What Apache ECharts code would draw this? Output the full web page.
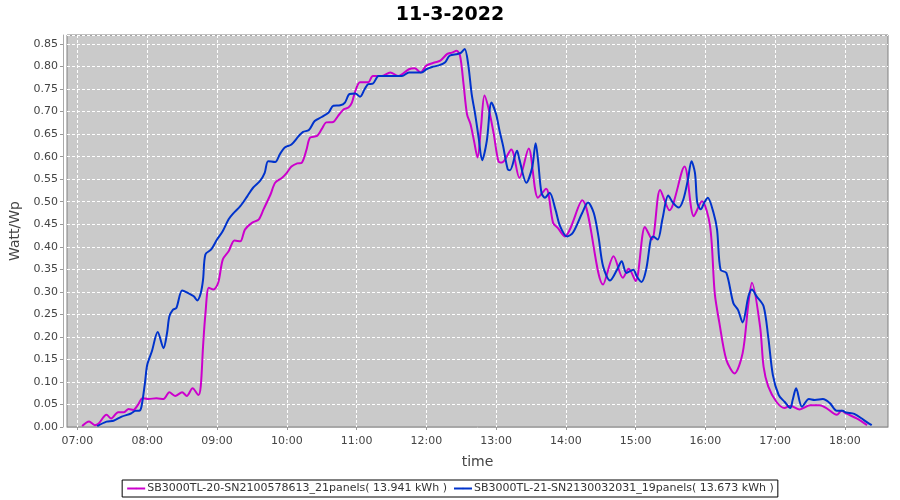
<!DOCTYPE html>
<html>
<head>
<meta charset="utf-8">
<script src="https://cdn.jsdelivr.net/npm/echarts@6/dist/echarts.min.js"></script>
<style>html,body{margin:0;padding:0;background:#fff}#c{width:900px;height:500px}</style>
</head>
<body>
<div id="c"></div>
<script>
const chartTitle = "11-3-2022";
const seriesNames = [
  "SB3000TL-20-SN2100578613_21panels( 13.941 kWh )",
  "SB3000TL-21-SN2130032031_19panels( 13.673 kWh )"
];
const xTickLabels = ["07:00","08:00","09:00","10:00","11:00","12:00","13:00","14:00","15:00","16:00","17:00","18:00"];

const magentaTimes = ["07:04","07:10","07:15","07:18","07:25","07:29","07:35","07:40","07:44","07:48","07:52","07:56","08:01","08:08","08:14","08:19","08:24","08:30","08:34","08:39","08:44","08:46","08:48","08:50","08:53","08:57","09:01","09:05","09:10","09:15","09:20","09:24","09:30","09:36","09:40","09:46","09:50","09:56","10:00","10:04","10:09","10:13","10:17","10:20","10:26","10:30","10:34","10:40","10:44","10:49","10:53","10:56","10:59","11:03","11:10","11:14","11:22","11:29","11:36","11:45","11:50","11:55","12:00","12:07","12:12","12:18","12:22","12:26","12:29","12:32","12:35","12:38","12:41","12:44","12:47","12:50","12:54","12:58","13:02","13:05","13:13","13:20","13:28","13:36","13:43","13:49","13:53","13:59","14:14","14:32","14:41","14:49","14:54","15:00","15:08","15:14","15:21","15:29","15:42","15:50","15:57","16:04","16:08","16:12","16:18","16:25","16:32","16:37","16:40","16:47","16:50","16:54","17:01","17:08","17:13","17:21","17:30","17:38","17:44","17:53","17:57","18:01","18:10","18:19"];
const magentaValues = [0.002,0.012,0.004,0.007,0.027,0.019,0.033,0.033,0.040,0.038,0.049,0.064,0.062,0.064,0.062,0.077,0.069,0.077,0.069,0.086,0.071,0.090,0.179,0.250,0.309,0.305,0.320,0.372,0.390,0.414,0.412,0.438,0.453,0.461,0.483,0.516,0.542,0.553,0.564,0.578,0.585,0.587,0.616,0.642,0.646,0.661,0.676,0.677,0.690,0.705,0.709,0.720,0.746,0.765,0.765,0.779,0.779,0.787,0.779,0.794,0.796,0.787,0.802,0.809,0.813,0.828,0.831,0.835,0.824,0.761,0.694,0.672,0.635,0.598,0.665,0.736,0.702,0.650,0.590,0.587,0.616,0.553,0.618,0.509,0.529,0.453,0.442,0.423,0.503,0.316,0.379,0.331,0.351,0.324,0.444,0.416,0.526,0.481,0.578,0.468,0.501,0.446,0.297,0.231,0.149,0.119,0.164,0.275,0.320,0.223,0.134,0.090,0.056,0.042,0.047,0.039,0.048,0.048,0.042,0.027,0.036,0.030,0.019,0.004];

const blueTimes = ["07:17","07:25","07:31","07:38","07:46","07:50","07:53","07:55","07:58","08:00","08:04","08:09","08:14","08:17","08:19","08:22","08:25","08:30","08:34","08:40","08:43","08:46","08:48","08:50","08:55","09:00","09:05","09:10","09:14","09:20","09:26","09:31","09:37","09:41","09:44","09:50","09:54","09:58","10:04","10:10","10:14","10:19","10:24","10:30","10:36","10:40","10:46","10:50","10:54","10:59","11:03","11:07","11:10","11:14","11:19","11:26","11:32","11:39","11:45","11:50","11:56","12:00","12:05","12:10","12:16","12:20","12:27","12:30","12:33","12:36","12:39","12:42","12:45","12:48","12:52","12:56","13:00","13:03","13:06","13:10","13:12","13:18","13:20","13:26","13:31","13:34","13:36","13:39","13:42","13:46","13:51","13:55","14:01","14:06","14:14","14:19","14:24","14:28","14:32","14:38","14:44","14:48","14:52","14:58","15:01","15:05","15:09","15:13","15:15","15:19","15:23","15:28","15:32","15:37","15:41","15:45","15:48","15:51","15:53","15:56","15:59","16:02","16:07","16:10","16:13","16:18","16:24","16:28","16:32","16:37","16:40","16:44","16:50","16:54","16:58","17:03","17:08","17:13","17:15","17:18","17:23","17:29","17:34","17:41","17:47","17:53","17:58","18:01","18:08","18:16","18:23"];
const blueValues = [0.002,0.012,0.014,0.023,0.030,0.036,0.036,0.045,0.097,0.138,0.168,0.211,0.175,0.208,0.245,0.260,0.264,0.303,0.299,0.290,0.281,0.297,0.327,0.383,0.394,0.416,0.435,0.461,0.474,0.490,0.512,0.531,0.546,0.564,0.590,0.588,0.605,0.620,0.627,0.645,0.655,0.659,0.679,0.688,0.698,0.713,0.714,0.720,0.739,0.740,0.733,0.750,0.761,0.762,0.779,0.779,0.779,0.779,0.787,0.787,0.787,0.794,0.799,0.802,0.809,0.824,0.828,0.831,0.839,0.805,0.739,0.694,0.642,0.592,0.635,0.720,0.694,0.657,0.624,0.572,0.570,0.613,0.594,0.542,0.576,0.630,0.594,0.520,0.509,0.520,0.483,0.446,0.423,0.431,0.475,0.498,0.475,0.423,0.357,0.325,0.349,0.368,0.342,0.349,0.334,0.322,0.349,0.416,0.423,0.416,0.461,0.514,0.498,0.487,0.505,0.550,0.590,0.564,0.498,0.483,0.498,0.509,0.475,0.438,0.349,0.342,0.275,0.260,0.232,0.290,0.305,0.290,0.268,0.200,0.115,0.071,0.056,0.042,0.060,0.086,0.045,0.062,0.060,0.062,0.053,0.036,0.036,0.032,0.029,0.016,0.004];

function toMin(s){const p=s.split(":");return (+p[0])*60+(+p[1]);}
function fmt(m){const h=Math.floor(m/60),mm=Math.round(m%60);return String(h).padStart(2,"0")+":"+String(mm).padStart(2,"0");}
const tickMinutes = xTickLabels.map(toMin);
const magentaData = magentaTimes.map((t,i)=>[toMin(t),magentaValues[i]]);
const blueData = blueTimes.map((t,i)=>[toMin(t),blueValues[i]]);

const font = "DejaVu Sans";
const chart = echarts.init(document.getElementById("c"), null, {renderer:"canvas"});
chart.setOption({
  animation:false,
  backgroundColor:"#ffffff",
  title:{text:chartTitle,left:"center",top:1,textStyle:{fontFamily:font,fontSize:19,fontWeight:"bold",color:"#000"}},
  grid:{left:67,right:12,top:35,bottom:73,show:true,backgroundColor:"#cacaca",borderColor:"#808080",borderWidth:1},
  xAxis:{
    type:"value",min:411,max:1117,offset:4,
    name:"time",nameLocation:"middle",nameGap:24,
    nameTextStyle:{fontFamily:font,fontSize:14,color:"#444"},
    axisLine:{lineStyle:{color:"#aaaaaa"}},
    axisTick:{customValues:tickMinutes,length:3,lineStyle:{color:"#999"}},
    axisLabel:{customValues:tickMinutes,formatter:v=>fmt(v),fontFamily:font,fontSize:11,color:"#444",margin:5},
    splitLine:{show:true,lineStyle:{color:"#ffffff",type:[3,2],width:1}}
  },
  yAxis:{
    type:"value",min:0,max:0.87,interval:0.05,offset:4,
    name:"Watt/Wp",nameLocation:"middle",nameGap:38,nameRotate:90,
    nameTextStyle:{fontFamily:font,fontSize:14,color:"#444"},
    axisLine:{show:true,lineStyle:{color:"#aaaaaa"}},
    axisTick:{show:true,length:3,lineStyle:{color:"#999"}},
    axisLabel:{showMaxLabel:false,formatter:v=>v.toFixed(2),fontFamily:font,fontSize:11,color:"#444",margin:5},
    splitLine:{show:true,lineStyle:{color:"#ffffff",type:[3,2],width:1}}
  },
  legend:{
    bottom:3,left:"center",
    borderColor:"#000",borderWidth:1,padding:[3,4],itemGap:6,
    itemWidth:18,itemHeight:2,
    textStyle:{fontFamily:font,fontSize:11,color:"#333",padding:[0,0,0,-3]},
    data:seriesNames
  },
  series:[
    {name:seriesNames[0],type:"line",data:magentaData,smooth:0.3,showSymbol:false,symbol:"none",
     lineStyle:{color:"#cc00cc",width:2},itemStyle:{color:"#cc00cc"}},
    {name:seriesNames[1],type:"line",data:blueData,smooth:0.3,showSymbol:false,symbol:"none",
     lineStyle:{color:"#0033cc",width:2},itemStyle:{color:"#0033cc"}}
  ]
});
</script>
</body>
</html>
